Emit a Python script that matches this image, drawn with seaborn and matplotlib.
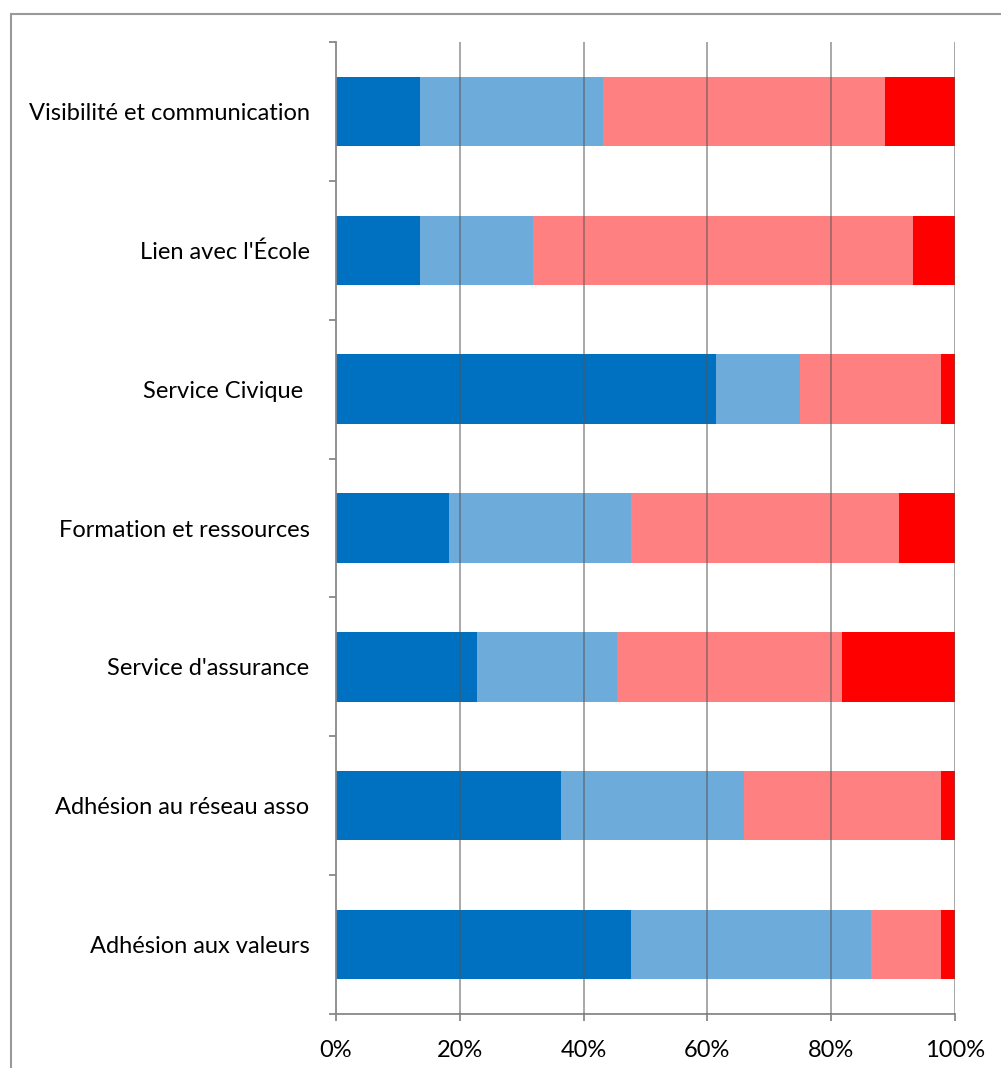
import matplotlib
matplotlib.use('Agg')
import numpy as np
import pandas as pd
import matplotlib.pyplot as plt
from matplotlib.patches import Rectangle
import seaborn as sns

categories = ["Visibilité et communication", "Lien avec l'École", "Service Civique ",
              "Formation et ressources", "Service d'assurance",
              "Adhésion au réseau asso", "Adhésion aux valeurs"]
# answers per category (44 respondents), from the blue side to the red side
tres_bien = [6, 6, 27, 8, 10, 16, 21]
bien = [13, 8, 6, 13, 10, 13, 17]
moyen = [20, 27, 10, 19, 16, 14, 5]
mauvais = [5, 3, 1, 4, 8, 1, 1]
colors = ["#0070C0", "#6DABDB", "#FF8080", "#FF0000"]

sns.set_style("white")
plt.rcParams['font.family'] = ['Lato', 'DejaVu Sans']

counts = np.array([tres_bien, bien, moyen, mauvais], dtype=float)
pct = counts / counts.sum(axis=0) * 100
cum = np.cumsum(pct, axis=0)

fig = plt.figure(figsize=(10.01, 10.68), dpi=100)
ax = fig.add_axes([336/1001, 1 - 1014/1068, (955-336)/1001, (1014-42)/1068])

# stacked bars: draw cumulative totals from the largest down
for i in range(3, -1, -1):
    df = pd.DataFrame({"cat": categories, "val": cum[i]})
    sns.barplot(data=df, x="val", y="cat", orient="h", color=colors[i],
                saturation=1, width=0.5, linewidth=0, ax=ax, zorder=2)

ax.set_xlim(0, 100)
ax.set_ylim(6.5, -0.5)
ax.set_xlabel("")
ax.set_ylabel("")
ax.set_xticks([0, 20, 40, 60, 80, 100])
ax.set_xticklabels(["0%", "20%", "40%", "60%", "80%", "100%"])
for x in [20, 40, 60, 80, 100]:
    ax.axvline(x, color="#555555", lw=1.3, alpha=0.55, zorder=3)

for s in ["top", "right"]:
    ax.spines[s].set_visible(False)
for s in ["left", "bottom"]:
    ax.spines[s].set_color("#888888")
    ax.spines[s].set_linewidth(1.3)

ax.tick_params(axis="x", direction="out", length=5, width=1.3, color="#888888",
               pad=14, labelsize=17, labelcolor="black", bottom=True)
ax.tick_params(axis="y", which="major", length=0, pad=19, labelsize=17,
               labelcolor="black")
ax.set_yticks(np.arange(-0.5, 7, 1), minor=True)
ax.tick_params(axis="y", which="minor", direction="out", length=5, width=1.3,
               color="#888888", left=True)

# outer frame of the chart area
fig.patches.append(Rectangle((11/1001, -0.1), 1.2, 1 - 14/1068 + 0.1,
                             transform=fig.transFigure, fill=False,
                             edgecolor="#999999", lw=1.5))

fig.savefig("out.png", dpi=100)
